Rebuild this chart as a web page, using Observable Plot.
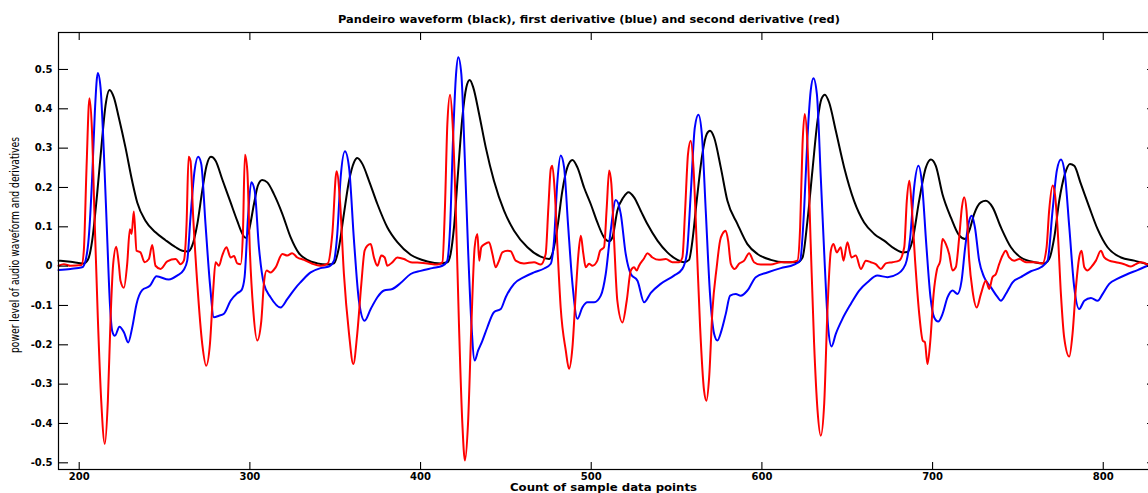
<!DOCTYPE html>
<html><head><meta charset="utf-8">
<script src="https://cdn.jsdelivr.net/npm/d3@7"></script>
<script src="https://cdn.jsdelivr.net/npm/@observablehq/plot@0.6"></script>
<style>
html,body{margin:0;padding:0;background:#fff;}
#chart{position:relative;width:1148px;height:493px;overflow:hidden;}
</style></head><body><div id="chart"></div>
<script>
// [sample index, value]
const waveform = [[187.9,0.014],[194.9,0.011],[202.7,0.007],[205.1,0.016],[207.6,0.065],[210.5,0.183],[213.5,0.327],[215.4,0.408],[217.8,0.448],[220.3,0.429],[223.2,0.378],[227.1,0.302],[231.0,0.217],[234.0,0.162],[238.9,0.115],[244.7,0.086],[250.6,0.066],[256.5,0.048],[260.4,0.039],[263.7,0.037],[266.2,0.052],[269.2,0.107],[272.1,0.192],[274.6,0.255],[277.2,0.278],[279.9,0.268],[283.8,0.221],[288.7,0.162],[292.6,0.115],[295.5,0.083],[297.5,0.072],[299.4,0.090],[302.4,0.158],[304.7,0.205],[307.2,0.219],[310.2,0.213],[314.1,0.183],[319.0,0.133],[323.9,0.073],[328.7,0.033],[333.6,0.016],[339.5,0.007],[345.4,0.004],[349.3,0.007],[352.2,0.048],[355.1,0.133],[358.1,0.217],[361.0,0.264],[362.9,0.275],[365.9,0.260],[369.8,0.217],[374.7,0.158],[380.5,0.099],[386.4,0.061],[394.2,0.029],[404.0,0.012],[411.8,0.007],[415.7,0.010],[417.6,0.031],[419.6,0.099],[421.9,0.234],[424.5,0.378],[426.8,0.454],[428.8,0.473],[430.9,0.454],[434.3,0.387],[438.2,0.302],[443.0,0.217],[448.9,0.141],[454.8,0.090],[462.6,0.048],[470.4,0.024],[475.3,0.018],[477.2,0.031],[480.2,0.099],[483.1,0.192],[486.0,0.251],[489.0,0.270],[491.9,0.251],[495.8,0.200],[499.7,0.158],[503.6,0.111],[507.5,0.073],[510.5,0.063],[512.4,0.073],[515.3,0.141],[518.9,0.175],[521.8,0.188],[525.1,0.175],[529.0,0.141],[532.9,0.107],[538.8,0.065],[544.6,0.035],[550.5,0.016],[554.4,0.010],[557.3,0.016],[559.3,0.065],[561.8,0.166],[565.1,0.285],[567.7,0.336],[569.6,0.344],[572.0,0.327],[575.9,0.251],[579.8,0.166],[585.7,0.107],[591.5,0.056],[597.4,0.031],[605.2,0.016],[613.0,0.010],[620.8,0.010],[623.8,0.022],[626.7,0.116],[629.6,0.243],[632.6,0.370],[634.9,0.425],[636.9,0.436],[639.4,0.416],[643.3,0.344],[648.2,0.251],[654.0,0.166],[659.9,0.111],[665.8,0.082],[671.6,0.065],[677.5,0.045],[682.4,0.035],[685.3,0.036],[688.2,0.065],[692.1,0.166],[696.1,0.251],[699.0,0.271],[701.9,0.255],[705.8,0.183],[710.7,0.124],[715.6,0.078],[719.1,0.069],[721.5,0.090],[724.4,0.133],[728.3,0.162],[731.2,0.166],[735.1,0.150],[740.0,0.099],[745.9,0.048],[751.7,0.022],[759.6,0.010],[765.4,0.007],[768.3,0.018],[771.3,0.073],[774.2,0.166],[777.5,0.234],[780.5,0.260],[783.0,0.255],[786.9,0.209],[791.8,0.150],[796.7,0.094],[802.5,0.048],[810.4,0.022],[818.2,0.014],[826.0,0.005]];

const firstDerivative = [[187.9,-0.010],[194.9,-0.007],[201.7,-0.003],[203.7,0.014],[205.6,0.073],[207.6,0.226],[209.2,0.395],[210.9,0.491],[212.5,0.454],[214.4,0.294],[216.4,0.073],[218.0,-0.096],[219.3,-0.164],[220.9,-0.177],[223.6,-0.154],[226.2,-0.168],[228.7,-0.194],[231.1,-0.155],[233.6,-0.096],[236.9,-0.061],[241.4,-0.050],[245.3,-0.026],[252.5,-0.034],[257.4,-0.024],[261.3,-0.009],[263.3,0.014],[265.2,0.124],[267.6,0.243],[269.7,0.278],[271.5,0.260],[274.0,0.107],[276.6,-0.045],[278.9,-0.130],[281.9,-0.126],[284.8,-0.121],[288.7,-0.088],[292.6,-0.069],[295.1,-0.061],[296.9,-0.028],[298.9,0.124],[300.8,0.213],[302.8,0.192],[305.3,0.048],[308.2,-0.045],[312.1,-0.079],[318.0,-0.105],[321.9,-0.084],[326.8,-0.055],[329.7,-0.041],[335.6,-0.016],[341.4,-0.005],[346.3,-0.001],[349.3,0.014],[351.2,0.082],[353.2,0.226],[355.7,0.292],[358.1,0.251],[361.0,0.065],[363.9,-0.088],[367.2,-0.139],[370.8,-0.109],[374.7,-0.079],[378.6,-0.062],[383.5,-0.058],[388.3,-0.043],[394.2,-0.020],[400.1,-0.012],[406.9,-0.005],[412.8,0.001],[415.5,0.012],[417.3,0.099],[419.0,0.319],[420.8,0.488],[422.1,0.531],[423.9,0.488],[425.9,0.277],[427.8,0.048],[429.8,-0.147],[431.7,-0.240],[433.7,-0.215],[436.2,-0.190],[439.1,-0.156],[443.0,-0.117],[447.0,-0.109],[449.9,-0.079],[454.8,-0.045],[460.6,-0.028],[466.5,-0.016],[472.4,-0.006],[476.3,0.006],[478.2,0.065],[480.2,0.217],[482.1,0.281],[484.1,0.251],[486.4,0.107],[489.0,-0.045],[491.9,-0.134],[494.8,-0.105],[497.8,-0.092],[501.7,-0.092],[505.6,-0.075],[508.5,-0.020],[511.4,0.090],[514.4,0.168],[517.3,0.133],[520.2,0.031],[523.2,-0.020],[527.1,-0.037],[531.0,-0.092],[534.9,-0.068],[540.7,-0.045],[548.5,-0.024],[553.4,-0.007],[556.0,0.031],[558.3,0.183],[560.7,0.353],[562.8,0.385],[564.8,0.336],[567.1,0.141],[569.6,-0.071],[572.0,-0.172],[573.9,-0.189],[576.3,-0.164],[578.8,-0.122],[581.4,-0.075],[584.7,-0.071],[587.6,-0.075],[591.5,-0.062],[596.4,-0.028],[603.2,-0.016],[611.1,-0.005],[618.9,0.004],[622.4,0.014],[624.7,0.141],[626.7,0.327],[628.6,0.446],[630.2,0.478],[632.2,0.438],[634.5,0.226],[636.9,-0.003],[638.8,-0.155],[640.8,-0.204],[643.3,-0.172],[647.2,-0.134],[652.1,-0.096],[657.0,-0.062],[661.9,-0.041],[667.7,-0.024],[673.6,-0.028],[679.4,-0.020],[682.5,-0.008],[684.8,0.014],[686.9,0.073],[689.2,0.200],[691.7,0.255],[693.8,0.210],[696.3,0.056],[698.8,-0.080],[700.9,-0.130],[703.3,-0.141],[705.8,-0.122],[708.8,-0.079],[711.7,-0.062],[714.6,-0.071],[717.0,-0.037],[719.1,0.048],[721.5,0.116],[723.0,0.128],[724.8,0.099],[727.3,0.014],[730.2,-0.028],[734.2,-0.054],[738.1,-0.079],[740.0,-0.088],[742.9,-0.071],[746.9,-0.041],[751.7,-0.028],[757.6,-0.013],[763.5,-0.003],[767.4,0.014],[770.3,0.141],[772.8,0.243],[775.2,0.271],[777.5,0.234],[780.1,0.099],[783.0,-0.054],[785.9,-0.109],[788.9,-0.088],[792.8,-0.081],[796.7,-0.088],[799.6,-0.071],[803.5,-0.045],[808.4,-0.032],[814.3,-0.020],[820.1,-0.010],[826.0,0.001]];

const secondDerivative = [[187.9,0.001],[191.0,0.005],[194.9,0.001],[201.4,0.003],[202.7,0.039],[204.3,0.251],[206.0,0.427],[207.4,0.353],[209.0,0.124],[210.9,-0.130],[212.9,-0.342],[215.0,-0.452],[216.8,-0.342],[218.4,-0.130],[219.9,0.005],[221.7,0.049],[223.2,0.005],[224.2,-0.037],[226.2,-0.055],[228.1,0.005],[229.7,0.094],[230.7,0.082],[232.0,0.139],[233.6,0.039],[235.9,0.035],[238.3,0.010],[240.8,0.018],[242.8,0.054],[244.7,0.001],[247.7,-0.007],[251.6,0.012],[256.5,0.018],[259.4,0.005],[261.3,0.014],[262.9,0.107],[264.1,0.278],[265.2,0.268],[266.8,0.124],[269.2,-0.045],[272.1,-0.198],[274.4,-0.253],[276.6,-0.198],[278.5,-0.062],[279.9,0.010],[281.9,0.001],[283.8,0.027],[286.3,0.048],[288.7,0.022],[290.7,0.026],[292.6,0.007],[294.6,0.005],[295.9,0.082],[297.1,0.283],[298.5,0.243],[300.0,0.039],[302.0,-0.113],[304.3,-0.189],[306.7,-0.139],[308.2,-0.045],[309.8,-0.011],[312.1,-0.016],[315.1,-0.003],[319.0,0.031],[321.9,0.027],[324.8,0.033],[327.8,0.022],[331.7,0.016],[336.6,0.006],[341.4,0.001],[345.7,0.007],[348.3,0.082],[350.8,0.241],[352.8,0.166],[355.1,-0.020],[358.1,-0.172],[360.6,-0.249],[362.9,-0.172],[365.3,-0.045],[367.2,0.039],[368.8,0.052],[370.8,0.056],[372.7,0.022],[374.7,0.001],[377.0,0.027],[379.0,0.022],[380.5,0.001],[383.5,0.010],[386.4,0.022],[390.3,0.018],[394.2,0.010],[398.1,0.009],[404.0,0.007],[409.8,0.004],[412.8,0.010],[414.3,0.150],[415.7,0.361],[417.3,0.436],[418.8,0.361],[420.6,0.150],[422.5,-0.147],[424.5,-0.401],[426.0,-0.494],[427.8,-0.401],[429.8,-0.147],[431.7,0.048],[433.3,0.082],[434.4,0.014],[435.6,0.048],[437.6,0.056],[440.1,0.061],[442.1,0.031],[444.0,-0.003],[446.0,0.014],[447.9,0.035],[450.9,0.039],[452.8,0.038],[455.7,0.014],[460.6,0.007],[466.5,0.010],[470.4,0.004],[473.3,0.031],[474.9,0.150],[476.3,0.247],[477.2,0.255],[478.6,0.192],[480.2,0.048],[482.1,-0.105],[485.1,-0.215],[487.0,-0.261],[489.0,-0.206],[490.9,-0.071],[492.5,0.031],[493.9,0.077],[495.4,0.031],[496.8,-0.003],[498.7,0.006],[500.7,0.001],[503.6,0.014],[505.2,0.039],[507.5,0.048],[509.1,0.150],[510.5,0.243],[511.8,0.209],[513.4,0.065],[515.3,-0.088],[518.3,-0.143],[520.8,-0.088],[523.2,-0.011],[525.1,-0.003],[526.7,-0.011],[528.0,0.001],[531.0,0.020],[532.9,0.033],[535.9,0.022],[539.7,0.016],[543.7,0.018],[547.6,0.010],[551.5,0.010],[553.4,0.022],[555.0,0.141],[556.7,0.285],[558.3,0.319],[559.9,0.251],[561.8,0.056],[563.8,-0.155],[566.1,-0.316],[567.5,-0.342],[569.1,-0.282],[571.0,-0.113],[573.5,-0.003],[575.5,0.065],[576.9,0.082],[578.8,0.090],[580.2,0.065],[581.8,0.006],[584.1,-0.007],[586.6,0.006],[589.6,0.014],[592.5,0.033],[595.4,0.010],[599.3,0.004],[605.2,0.004],[611.1,0.010],[616.9,0.010],[620.8,0.014],[622.4,0.099],[623.8,0.310],[625.1,0.387],[626.7,0.310],[628.6,0.056],[630.6,-0.198],[632.6,-0.367],[634.5,-0.431],[636.5,-0.350],[638.4,-0.113],[640.4,0.039],[641.9,0.056],[643.9,0.035],[646.2,0.048],[647.8,0.014],[650.1,0.061],[652.5,0.022],[655.0,0.027],[658.0,-0.007],[660.9,0.014],[663.8,0.010],[666.7,0.005],[669.7,-0.007],[672.6,0.007],[676.5,0.010],[680.4,0.014],[683.4,0.048],[684.9,0.166],[686.4,0.217],[687.8,0.150],[689.9,0.005],[692.1,-0.118],[694.3,-0.190],[695.5,-0.193],[697.0,-0.249],[698.6,-0.194],[700.6,-0.071],[702.6,-0.008],[704.5,0.014],[705.8,0.069],[707.8,0.056],[709.7,0.031],[711.7,-0.011],[713.6,-0.003],[715.6,0.073],[717.2,0.150],[718.5,0.175],[719.9,0.141],[721.5,0.014],[723.4,-0.062],[725.9,-0.105],[728.3,-0.071],[731.2,-0.037],[733.2,-0.058],[735.1,-0.028],[737.1,-0.020],[739.0,0.005],[741.0,0.027],[742.9,0.039],[744.9,0.022],[747.8,0.014],[750.8,0.018],[754.7,0.010],[759.6,0.010],[764.4,0.007],[766.8,0.048],[768.3,0.141],[770.3,0.205],[771.7,0.183],[773.2,0.099],[775.2,-0.071],[777.1,-0.181],[780.1,-0.230],[782.0,-0.172],[784.0,-0.054],[785.9,0.022],[787.3,0.039],[788.9,-0.003],[790.8,-0.011],[792.8,-0.003],[795.7,0.014],[798.6,0.039],[800.6,0.022],[803.5,0.014],[807.4,0.010],[812.3,0.005],[816.2,-0.001],[819.1,0.005],[822.1,0.010],[826.0,0.004]];

const xTicks = [200, 300, 400, 500, 600, 700, 800];
const yTicks = [-0.5, -0.4, -0.3, -0.2, -0.1, 0, 0.1, 0.2, 0.3, 0.4, 0.5];
const titleText = "Pandeiro waveform (black), first derivative (blue) and second derivative (red)";
const xLabelText = "Count of sample data points";
const yLabelText = "power level of audio waveform and derivatives";
const seriesColors = {waveform: "#000000", first: "#0000ff", second: "#ff0000"};

const lineOpts = (color) => ({x: d => d[0], y: d => d[1], stroke: color, strokeWidth: 2, curve: "monotone-x"});

const chart = Plot.plot({
  width: 1148,
  height: 493,
  marginLeft: 58,
  marginRight: -8,
  marginTop: 32,
  marginBottom: 24,
  x: {domain: [187.87, 831.2], label: null},
  y: {domain: [-0.517, 0.594], label: null},
  style: {fontFamily: "DejaVu Sans", fontSize: "10px", fontWeight: "bold", background: "#fff", color: "#000", overflow: "hidden"},
  marks: [
    Plot.line(waveform, lineOpts(seriesColors.waveform)),
    Plot.line(firstDerivative, lineOpts(seriesColors.first)),
    Plot.line(secondDerivative, lineOpts(seriesColors.second)),
    Plot.frame({stroke: "#000", strokeWidth: 1.2}),
    Plot.axisX({ticks: xTicks, anchor: "bottom", tickSize: -7, tickFormat: () => "", label: null, strokeWidth: 1.1}),
    Plot.axisX({ticks: xTicks, anchor: "bottom", tickSize: 0, tickPadding: 3, tickFormat: d => String(d), label: null}),
    Plot.axisX({ticks: xTicks, anchor: "top", tickSize: -7, tickFormat: () => "", label: null, strokeWidth: 1.1}),
    Plot.axisY({ticks: yTicks, anchor: "left", tickSize: -10, tickFormat: () => "", label: null, strokeWidth: 1.1}),
    Plot.axisY({ticks: yTicks, anchor: "left", tickSize: 0, tickPadding: 6, tickFormat: d => String(d), label: null}),
    Plot.axisY({ticks: yTicks, anchor: "right", tickSize: -10, tickFormat: () => "", label: null, strokeWidth: 1.1})
  ]
});

const svg = d3.select(chart);
svg.append("text")
  .attr("x", 589).attr("y", 23)
  .attr("text-anchor", "middle")
  .attr("font-family", "DejaVu Sans").attr("font-weight", "bold").attr("font-size", 10.2)
  .attr("textLength", 502).attr("lengthAdjust", "spacingAndGlyphs")
  .attr("fill", "#000")
  .text(titleText);
svg.append("text")
  .attr("x", 603.5).attr("y", 491.3)
  .attr("text-anchor", "middle")
  .attr("font-family", "DejaVu Sans").attr("font-weight", "bold").attr("font-size", 10.4)
  .attr("textLength", 187).attr("lengthAdjust", "spacingAndGlyphs")
  .attr("fill", "#000")
  .text(xLabelText);
svg.append("text")
  .attr("transform", "translate(19,245) rotate(-90)")
  .attr("text-anchor", "middle")
  .attr("font-family", "'Liberation Sans Narrow', 'DejaVu Sans Condensed', 'Liberation Sans', sans-serif")
  .attr("font-weight", "normal").attr("font-size", 12)
  .attr("textLength", 216).attr("lengthAdjust", "spacingAndGlyphs")
  .attr("fill", "#000")
  .text(yLabelText);

document.getElementById("chart").appendChild(chart);
</script>
</body></html>
